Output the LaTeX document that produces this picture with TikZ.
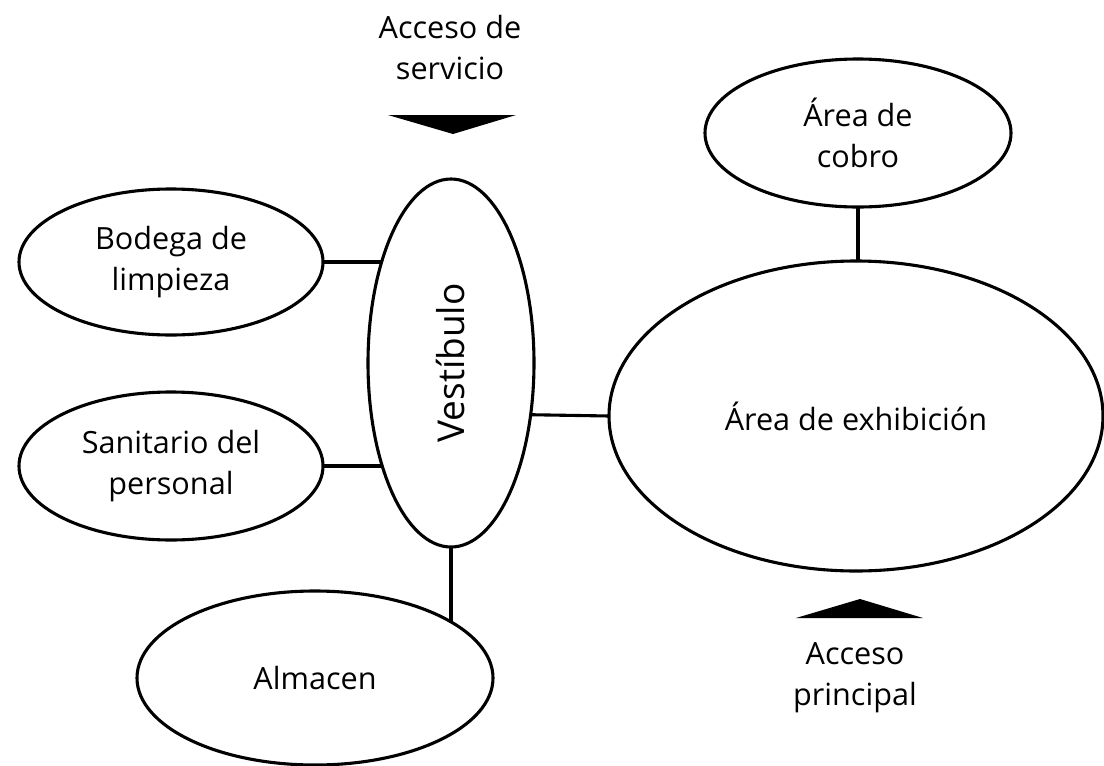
\documentclass[tikz,border=0pt]{standalone}
\usepackage{fontspec}
\setmainfont{Open Sans}
\usetikzlibrary{shapes.geometric}
\begin{document}
\begin{tikzpicture}[x=0.5pt,y=-0.5pt,
  every node/.style={font=\fontsize{15.3pt}{20.5pt}\selectfont, align=center},
  room/.style={draw, ellipse, line width=1.55pt, inner sep=0pt, outer sep=0pt},
  link/.style={line width=1.55pt},
  tri/.style={fill=black}]
\useasboundingbox (0,0) rectangle (1104,766);
% rooms
\node[room, minimum width=83pt, minimum height=184pt] (v) at (451,363) {\rotatebox{90}{\fontsize{18.5pt}{22pt}\selectfont Vestíbulo}};
\node[room, minimum width=152pt, minimum height=73pt] (bod) at (171,262) {Bodega de\\limpieza};
\node[room, minimum width=152pt, minimum height=74pt] (san) at (171,466) {Sanitario del\\personal};
\node[room, minimum width=178pt, minimum height=87pt] (alm) at (315,678) {Almacen};
\node[room, minimum width=153pt, minimum height=74pt] (cob) at (858,133) {Área de\\cobro};
\node[room, minimum width=247pt, minimum height=155pt] (exh) at (856,416) {Área de exhibición};
% connectors
\draw[link] (bod.east) -- (v.124.5 |- bod.east);
\draw[link] (san.east) -- (v.236.3 |- san.east);
\draw[link] (v.-33.7) -- (exh.west);
\draw[link] (v.south) -- (v.south |- alm.22.4);
\draw[link] (cob.south) -- (cob.south |- exh.north);
% access labels and arrows
\node (srv) at (450,48) {Acceso de\\servicio};
\node (prn) at (855,678) {Acceso\\principal};
\fill[tri] (388,115) -- (516,115) -- (453,134) -- cycle;
\fill[tri] (796,618) -- (923,618) -- (860,599) -- cycle;
\end{tikzpicture}
\end{document}
